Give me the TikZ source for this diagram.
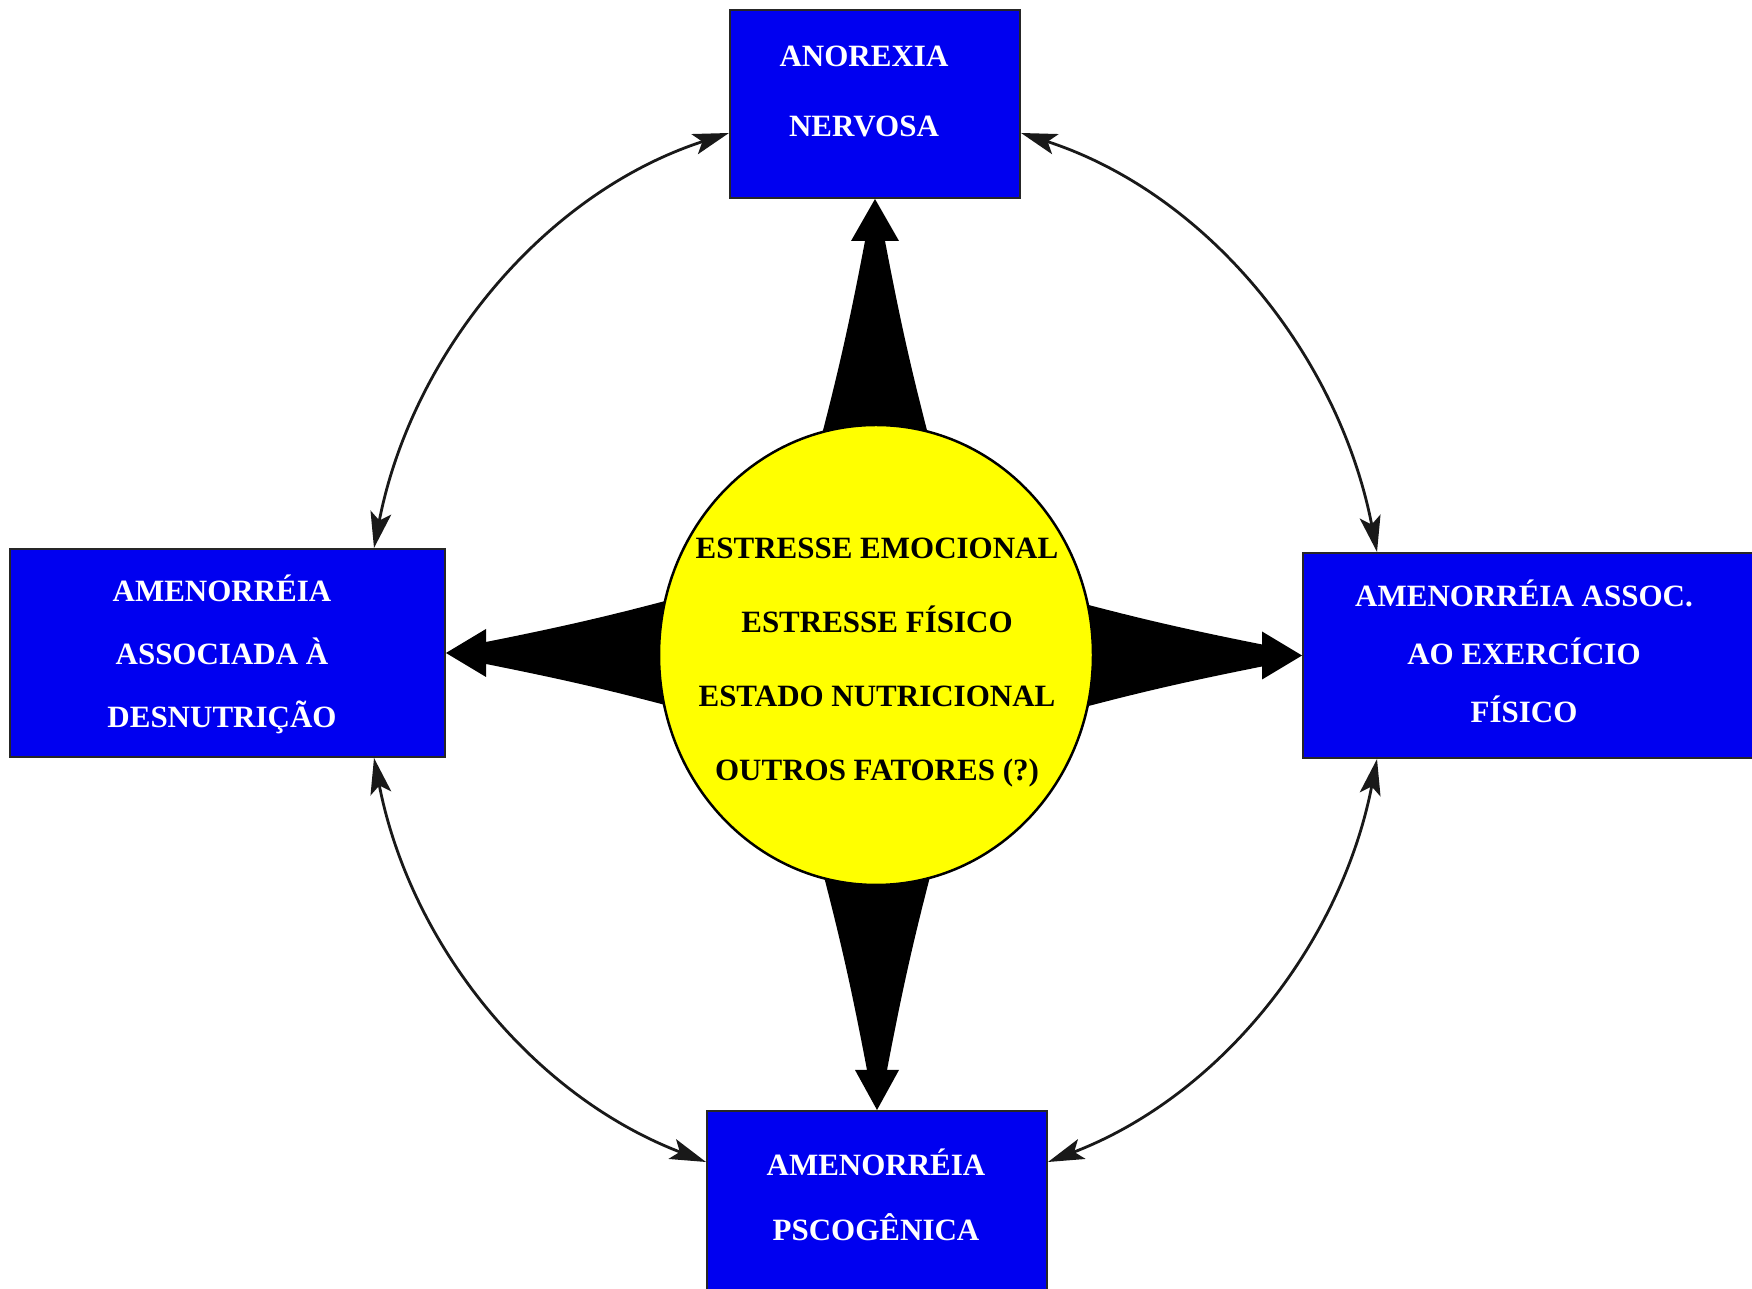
\documentclass[tikz,border=0pt]{standalone}
\usepackage{fontspec}
\setmainfont{Liberation Serif}
\usetikzlibrary{shapes.geometric,arrows.meta,backgrounds,calc}
\definecolor{boxblue}{RGB}{0,0,240}
\definecolor{sunyellow}{RGB}{255,255,0}
\tikzset{
  bluebox/.style={draw=black!85, line width=2pt, fill=boxblue, inner sep=0pt},
  boxtext/.style={text=white, align=center, inner sep=0pt, font=\bfseries\fontsize{31}{#1}\selectfont},
  circtext/.style={text=black, align=center, inner sep=0pt, font=\bfseries\fontsize{31}{74}\selectfont},
  centreoval/.style={ellipse, draw=black, line width=2.5pt, fill=sunyellow, inner sep=0pt},
  stararrow/.style={fill=black},
  linkarrow/.style={line width=2.8pt, draw=black!90,
    {Stealth[length=36pt,width=21pt,inset=8pt]}-{Stealth[length=36pt,width=21pt,inset=8pt]}}
}
\begin{document}
\begin{tikzpicture}[x=1pt,y=1pt]
\useasboundingbox (0,0) rectangle (1752,1289);

% boxes
\node[bluebox, minimum width=290, minimum height=188] (tbox) at (875,1185) {};
\node[bluebox, minimum width=435, minimum height=208] (lbox) at (227.5,636) {};
\node[bluebox, minimum width=453, minimum height=205] (rbox) at (1529.5,633.5) {};
\node[bluebox, minimum width=340, minimum height=184] (bbox) at (877,86) {};

% central oval
\node[centreoval, minimum width=434, minimum height=460] (core) at (876,634) {};

% box texts
\node[boxtext=70] (ttxt) at (864,1198) {ANOREXIA\\NERVOSA};
\node[boxtext=63] (ltxt) at (222,635) {AMENORRÉIA\\ASSOCIADA À\\DESNUTRIÇÃO};
\node[boxtext=58] (rtxt) at (1524,638) {AMENORRÉIA ASSOC.\\AO EXERCÍCIO\\FÍSICO};
\node[boxtext=65] (btxt) at (876,94.5) {AMENORRÉIA\\PSCOGÊNICA};
\node[circtext] (ctxt) at (877,626.5) {ESTRESSE EMOCIONAL\\ESTRESSE FÍSICO\\ESTADO NUTRICIONAL\\OUTROS FATORES (?)};

% white page and tapered arrows behind the oval
\begin{scope}[on background layer]
\fill[white] (0,0) rectangle (1752,1289);
\fill[stararrow] (tbox.south) -- ++(24,-42) -- ++(-14,0) to[bend right=2] ++(50,-220) -- ++(-120,0) to[bend right=2] ++(50,220) -- ++(-14,0) -- cycle;
\fill[stararrow] (bbox.north) -- ++(22,40) -- ++(-12,0) to[bend left=2] ++(50,220) -- ++(-120,0) to[bend left=2] ++(50,-220) -- ++(-12,0) -- cycle;
\fill[stararrow] (lbox.east) -- ++(40,24) -- ++(0,-13) to[bend right=2] ++(220,52) -- ++(0,-126) to[bend right=2] ++(-220,52) -- ++(0,-13) -- cycle;
\fill[stararrow] (rbox.west) -- ++(-40,24) -- ++(0,-13) to[bend left=2] ++(-220,52) -- ++(0,-126) to[bend left=2] ++(220,52) -- ++(0,-13) -- cycle;
\end{scope}

% curved double arrows
\draw[linkarrow] ([xshift=-72pt]lbox.north east) to[out=79,in=198,looseness=0.92] ([yshift=-29pt]tbox.west);
\draw[linkarrow] ([yshift=-29pt]tbox.east) to[out=-18,in=101,looseness=0.92] ([xshift=75pt]rbox.north west);
\draw[linkarrow] ([xshift=-72pt]lbox.south east) to[out=-79,in=159,looseness=0.92] ([yshift=-52pt]bbox.north west);
\draw[linkarrow] ([xshift=75pt]rbox.south west) to[out=-101,in=21,looseness=0.92] ([yshift=-52pt]bbox.north east);
\end{tikzpicture}
\end{document}
